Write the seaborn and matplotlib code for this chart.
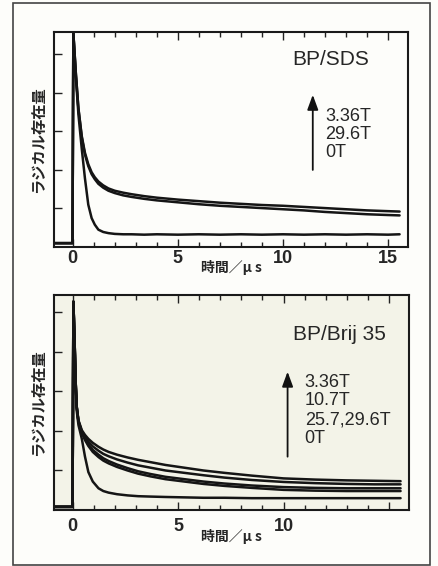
import numpy as np
import pandas as pd
import matplotlib
matplotlib.use('Agg')
import matplotlib.pyplot as plt
import seaborn as sns
from matplotlib.patches import Rectangle

# --- data (time in us, radical amount in arb. units) ---
t_sds = [-0.88, -0.01, 0.03, 0.15, 0.27, 0.43, 0.58, 0.74, 0.9, 1.05, 1.22, 1.45,
         1.7, 2.0, 2.4, 2.8, 3.4, 4.0, 5.0, 6.0, 7.0, 8.0, 9.0, 10.0, 11.0, 12.0,
         13.0, 14.0, 15.0, 15.55]
sds_336 = [0.10, 0.10, 5.55, 4.5, 3.6, 2.88, 2.45, 2.15, 1.94, 1.81, 1.70, 1.60,
           1.52, 1.46, 1.41, 1.37, 1.32, 1.28, 1.23, 1.19, 1.15, 1.12, 1.09, 1.07,
           1.04, 1.01, 0.98, 0.95, 0.93, 0.92]
sds_296 = [0.10, 0.10, 5.55, 4.5, 3.6, 2.85, 2.40, 2.10, 1.89, 1.76, 1.64, 1.54,
           1.46, 1.40, 1.34, 1.30, 1.25, 1.21, 1.16, 1.11, 1.07, 1.04, 1.01, 0.98,
           0.95, 0.91, 0.88, 0.85, 0.83, 0.82]
sds_0 = [0.10, 0.10, 5.55, 4.4, 3.45, 2.55, 1.79, 1.10, 0.75, 0.58, 0.45, 0.39,
         0.36, 0.34, 0.33, 0.33, 0.32, 0.33, 0.32, 0.33, 0.32, 0.33, 0.32, 0.33,
         0.32, 0.33, 0.32, 0.33, 0.32, 0.33]

t_brij = [-0.88, -0.01, 0.03, 0.09, 0.14, 0.19, 0.27, 0.43, 0.58, 0.74, 0.95, 1.22,
          1.45, 1.7, 2.1, 2.6, 3.1, 3.7, 4.4, 5.3, 6.2, 7.2, 8.5, 10.0, 11.5, 13.0,
          14.3, 15.55]
brij_336 = [0.08, 0.08, 5.27, 4.2, 3.2, 2.6, 2.27, 2.02, 1.90, 1.80, 1.70, 1.60,
            1.53, 1.47, 1.40, 1.33, 1.27, 1.21, 1.14, 1.07, 1.00, 0.94, 0.87, 0.80,
            0.77, 0.75, 0.74, 0.73]
brij_107 = [0.08, 0.08, 5.27, 4.2, 3.2, 2.6, 2.25, 1.99, 1.85, 1.73, 1.61, 1.50,
            1.42, 1.36, 1.28, 1.20, 1.13, 1.07, 1.00, 0.94, 0.88, 0.82, 0.76, 0.71,
            0.68, 0.66, 0.65, 0.65]
brij_257 = [0.08, 0.08, 5.27, 4.2, 3.2, 2.6, 2.24, 1.97, 1.80, 1.66, 1.52, 1.40,
            1.31, 1.24, 1.15, 1.06, 0.98, 0.91, 0.84, 0.78, 0.72, 0.67, 0.62, 0.58,
            0.56, 0.55, 0.55, 0.55]
brij_296 = [0.08, 0.08, 5.27, 4.2, 3.2, 2.6, 2.23, 1.95, 1.77, 1.62, 1.47, 1.34,
            1.25, 1.18, 1.09, 1.00, 0.92, 0.85, 0.78, 0.72, 0.66, 0.61, 0.56, 0.51,
            0.49, 0.48, 0.48, 0.48]
brij_0 = [0.08, 0.08, 5.27, 4.1, 3.1, 2.5, 2.15, 1.80, 1.35, 0.96, 0.72, 0.55,
          0.48, 0.44, 0.40, 0.37, 0.35, 0.34, 0.33, 0.32, 0.31, 0.31, 0.30, 0.30,
          0.30, 0.30, 0.30, 0.30]

field_sds = ['3.36T', '29.6T', '0T']
field_brij = ['3.36T', '10.7T', '25.7,29.6T', '0T']
xtick_vals = [0, 5, 10, 15]
xtick_sds = ['0', '5', '10', '15']
xtick_brij = ['0', '5', '10', '']

XLABEL = '時間／μ s'
YLABEL = 'ラジカル存在量'
CJK = ['Noto Sans CJK JP', 'DejaVu Sans']
LATIN = ['Liberation Sans', 'DejaVu Sans']


def to_long(t, curves):
    """Stack several curves sharing one time axis into long format"""
    frames = []
    for name, vals in curves.items():
        frames.append(pd.DataFrame({'t': t, 'v': vals, 'curve': name}))
    return pd.concat(frames, ignore_index=True)


def draw_panel(ax, df, ytop, ticklabels, tick_pad, xlabel_y):
    sns.lineplot(data=df, x='t', y='v', units='curve', estimator=None,
                 sort=False, color='#151515', lw=1.8, ax=ax, legend=False)
    ax.set_xlim(-0.89, 15.95)
    ax.set_ylim(0, ytop)
    ax.set_xticks(xtick_vals)
    ax.set_xticklabels(ticklabels, fontfamily=LATIN, fontweight='bold', fontsize=13)
    ax.set_xticks(np.arange(0, 16, 1), minor=True)
    ax.set_yticks([1, 2, 3, 4, 5])
    ax.set_yticklabels([])
    ax.tick_params(which='both', direction='in', top=True, right=False,
                   color='#222222', width=1.0)
    ax.tick_params(which='major', length=5.5)
    ax.tick_params(which='minor', length=3.5)
    ax.tick_params(axis='x', which='major', pad=tick_pad)
    for sp in ax.spines.values():
        sp.set_linewidth(1.5)
        sp.set_color('#1a1a1a')
    ax.set_xlabel(XLABEL, fontfamily=CJK, fontweight='bold', fontsize=10, va='center')
    ax.xaxis.set_label_coords(0.5, xlabel_y)
    ax.set_ylabel(YLABEL, fontfamily=CJK, fontweight='bold', fontsize=11, va='center')
    ax.yaxis.set_label_coords(-0.045, 0.5)


def field_arrow(ax, x, ybot, ytip):
    ax.annotate('', xy=(x, ytip), xytext=(x, ybot),
                arrowprops=dict(arrowstyle='-|>,head_length=0.6,head_width=0.22',
                                mutation_scale=15, lw=1.3, color='#111111',
                                shrinkA=0, shrinkB=0))


def main():
    sns.set_theme(style='ticks')
    plt.rcParams['font.family'] = LATIN

    fig = plt.figure(figsize=(4.38, 5.66), dpi=100)
    fig.patch.set_facecolor('#fdfdfa')

    # outer frame of the scanned figure
    fig.patches.append(Rectangle((0.0297, 0.0025), 0.952, 0.992, transform=fig.transFigure,
                                 fill=False, lw=1.2, edgecolor='#444444'))

    ax1 = fig.add_axes([0.1233, 0.5636, 0.8082, 0.3799])
    ax2 = fig.add_axes([0.1233, 0.0989, 0.8105, 0.3799])
    ax1.set_facecolor('#fdfdfa')
    ax2.set_facecolor('#f3f3e8')

    df_sds = to_long(t_sds, {'3.36T': sds_336, '29.6T': sds_296, '0T': sds_0})
    df_brij = to_long(t_brij, {'3.36T': brij_336, '10.7T': brij_107, '25.7T': brij_257,
                               '29.6T': brij_296, '0T': brij_0})

    draw_panel(ax1, df_sds, 5.58, xtick_sds, 2, -0.095)
    draw_panel(ax2, df_brij, 5.44, xtick_brij, 6, -0.124)

    # panel annotations
    ax1.text(10.43, 4.86, 'BP/SDS', fontsize=15, va='center', ha='left')
    for lab, y in zip(field_sds, [3.38, 2.91, 2.44]):
        ax1.text(12.0, y, lab, fontsize=13, va='center', ha='left')
    field_arrow(ax1, 11.42, 2.0, 3.95)

    ax2.text(10.43, 4.43, 'BP/Brij 35', fontsize=15, va='center', ha='left')
    for lab, y in zip(field_brij, [3.23, 2.76, 2.28, 1.81]):
        ax2.text(11.0, y, lab, fontsize=13, va='center', ha='left')
    field_arrow(ax2, 10.19, 1.35, 3.5)

    fig.savefig('out.png', dpi=100, facecolor=fig.get_facecolor())
    plt.close(fig)


if __name__ == "__main__":
    main()
